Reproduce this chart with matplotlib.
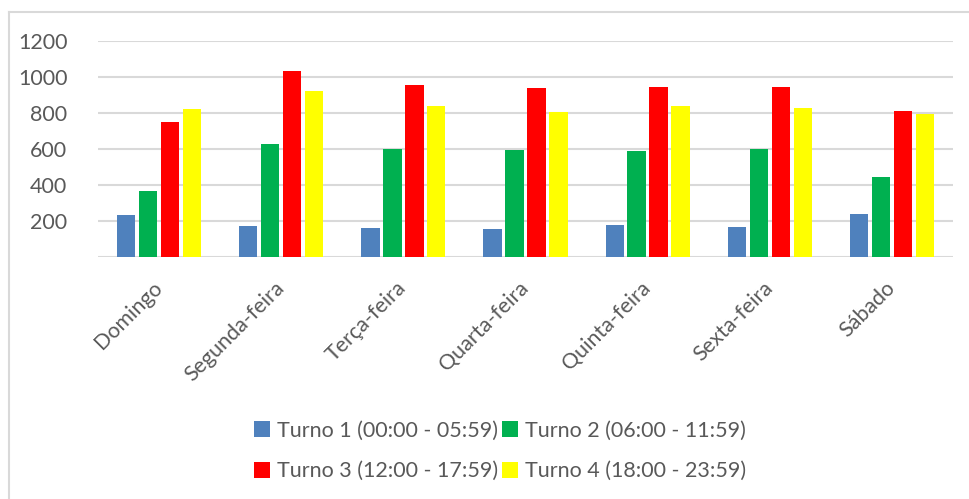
import matplotlib
matplotlib.use("Agg")
import matplotlib.pyplot as plt
import numpy as np
from matplotlib.lines import Line2D

plt.rcParams['font.family'] = ['Lato', 'DejaVu Sans']

categories = ["Domingo", "Segunda-feira", "Terça-feira", "Quarta-feira",
              "Quinta-feira", "Sexta-feira", "Sábado"]
turno1 = [231, 170, 157, 156, 176, 167, 235]
turno2 = [368, 626, 600, 593, 587, 598, 443]
turno3 = [750, 1033, 957, 937, 946, 943, 809]
turno4 = [824, 920, 839, 807, 837, 826, 796]
series_labels = ["Turno 1 (00:00 - 05:59)", "Turno 2 (06:00 - 11:59)",
                 "Turno 3 (12:00 - 17:59)", "Turno 4 (18:00 - 23:59)"]
colors = ["#4f81bd", "#00b050", "#ff0000", "#ffff00"]
yticks = [200, 400, 600, 800, 1000, 1200]

W, H = 969, 499
fig = plt.figure(figsize=(W / 100, H / 100), dpi=100)
ax = fig.add_axes([98 / W, 1 - 256.7 / H, (953 - 98) / W, (256.7 - 41) / H])

x = np.arange(len(categories))
step = 0.18
bw = 0.15
offsets = [-1.5 * step, -0.5 * step, 0.5 * step, 1.5 * step]
handles = []
for vals, off, c, lab in zip([turno1, turno2, turno3, turno4], offsets, colors, series_labels):
    b = ax.bar(x + off, vals, width=bw, color=c, label=lab, zorder=3)
    handles.append(b)

ax.set_xlim(-0.5, len(categories) - 0.5)
ax.set_ylim(0, 1200)
ax.set_yticks(yticks)
ax.set_yticklabels([str(v) for v in yticks])
ax.yaxis.grid(True, color="#d9d9d9", linewidth=1.5, zorder=0)
ax.set_axisbelow(True)
for s in ax.spines.values():
    s.set_visible(False)
ax.axhline(0, color="#d9d9d9", linewidth=1.5, zorder=1)
ax.tick_params(axis='both', length=0, colors="#595959", labelsize=15.5)
ax.tick_params(axis='y', pad=22)
ax.set_xticks(x)
ax.set_xticklabels(categories, rotation=45, ha='right', va='center',
                   rotation_mode='anchor')
ax.tick_params(axis='x', pad=20)

order = [0, 2, 1, 3]
leg = fig.legend(handles=[handles[i] for i in order],
                 labels=[series_labels[i] for i in order], ncol=2,
                 loc='center', bbox_to_anchor=(500 / W, 1 - 451 / H),
                 frameon=False, fontsize=15.5, handlelength=0.75, handleheight=0.75,
                 handletextpad=0.3, columnspacing=0.2, labelspacing=0.95)
for t in leg.get_texts():
    t.set_color("#595959")

# chart border (partially outside the image)
fig.add_artist(Line2D([9 / W, 9 / W], [1 - 12 / H, 0], transform=fig.transFigure,
                      color="#d9d9d9", linewidth=1.5))
fig.add_artist(Line2D([9 / W, 1], [1 - 12 / H, 1 - 12 / H], transform=fig.transFigure,
                      color="#d9d9d9", linewidth=1.5))

fig.savefig("out.png", dpi=100)
